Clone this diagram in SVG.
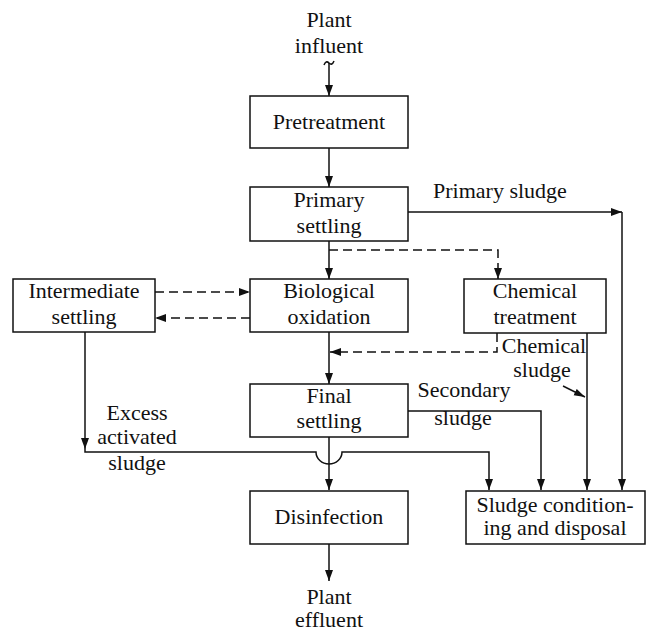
<svg xmlns="http://www.w3.org/2000/svg" width="648" height="631" viewBox="0 0 648 631">
<defs>
<marker id="ah" markerUnits="userSpaceOnUse" markerWidth="12" markerHeight="10" refX="11" refY="4" orient="auto">
<path d="M0,0 L11,4 L0,8 Z" fill="#111"/>
</marker>
<marker id="ahs" markerUnits="userSpaceOnUse" markerWidth="12" markerHeight="10" refX="11" refY="3.5" orient="auto">
<path d="M0,0 L11,3.5 L0,7 Z" fill="#111"/>
</marker>
</defs>
<style>
.box{fill:#fff;stroke:#111;stroke-width:1.5}
.t{font-family:'Liberation Serif','DejaVu Serif',serif;font-size:22px;fill:#111;text-anchor:middle}
.tl{font-family:'Liberation Serif','DejaVu Serif',serif;font-size:22px;fill:#111}
.ln{fill:none;stroke:#111;stroke-width:1.5}
.dash{fill:none;stroke:#111;stroke-width:1.5;stroke-dasharray:9 5}
</style>
<rect width="648" height="631" fill="#fff"/>
<g id="connectors">
<path class="ln" d="M324,65 Q326,60 329,63 Q332,66 334,61"/>
<line class="ln" x1="329" y1="63" x2="329" y2="96" marker-end="url(#ah)"/>
<line class="ln" x1="329" y1="148" x2="329" y2="187" marker-end="url(#ah)"/>
<line class="ln" x1="329" y1="241" x2="329" y2="279" marker-end="url(#ah)"/>
<line class="ln" x1="329" y1="332" x2="329" y2="384" marker-end="url(#ah)"/>
<line class="ln" x1="329" y1="437" x2="329" y2="490" marker-end="url(#ah)"/>
<line class="ln" x1="329" y1="544" x2="329" y2="581" marker-end="url(#ah)"/>
<line class="ln" x1="408" y1="212" x2="622" y2="212" marker-end="url(#ah)"/>
<line class="ln" x1="622" y1="212" x2="622" y2="490" marker-end="url(#ah)"/>
<polyline class="dash" points="329,250 498,250 498,279" marker-end="url(#ah)"/>
<line class="dash" x1="155" y1="292" x2="250" y2="292" marker-end="url(#ah)"/>
<line class="dash" x1="250" y1="318" x2="155" y2="318" marker-end="url(#ah)"/>
<polyline class="dash" points="497,333 497,352 330,352" marker-end="url(#ah)"/>
<line class="ln" x1="587" y1="333" x2="587" y2="490" marker-end="url(#ah)"/>
<line class="ln" x1="563" y1="386" x2="585" y2="397" marker-end="url(#ahs)"/>
<polyline class="ln" points="408,411 541,411 541,490" marker-end="url(#ah)"/>
<line class="ln" x1="85" y1="332" x2="85" y2="449" marker-end="url(#ah)"/>
<path class="ln" d="M85,449 L85,452 L316,452 A13,12 0 0 0 342,452 L489,452 L489,490" marker-end="url(#ah)"/>
</g>
<g id="influent"><text class="t" x="329" y="27">Plant</text><text class="t" x="329" y="53">influent</text></g>
<g id="pretreatment"><rect class="box" x="250" y="96" width="158" height="52"/><text class="t" x="329" y="129">Pretreatment</text></g>
<g id="primary-settling"><rect class="box" x="250" y="187" width="158" height="54"/><text class="t" x="329" y="207">Primary</text><text class="t" x="329" y="233">settling</text></g>
<g id="primary-sludge-label"><text class="tl" x="433" y="198">Primary sludge</text></g>
<g id="intermediate-settling"><rect class="box" x="13" y="279" width="142" height="53"/><text class="t" x="84" y="298">Intermediate</text><text class="t" x="84" y="324">settling</text></g>
<g id="biological-oxidation"><rect class="box" x="250" y="279" width="158" height="53"/><text class="t" x="329" y="298">Biological</text><text class="t" x="329" y="324">oxidation</text></g>
<g id="chemical-treatment"><rect class="box" x="464" y="279" width="142" height="54"/><text class="t" x="535" y="298">Chemical</text><text class="t" x="535" y="324">treatment</text></g>
<g id="chemical-sludge-label"><text class="t" x="544" y="353">Chemical</text><text class="t" x="542" y="377">sludge</text></g>
<g id="final-settling"><rect class="box" x="250" y="384" width="158" height="53"/><text class="t" x="329" y="403">Final</text><text class="t" x="329" y="428">settling</text></g>
<g id="secondary-sludge-label"><text class="t" x="464" y="397">Secondary</text><text class="t" x="463" y="425">sludge</text></g>
<g id="excess-label"><text class="t" x="137" y="420">Excess</text><text class="t" x="137" y="444">activated</text><text class="t" x="137" y="470">sludge</text></g>
<g id="disinfection"><rect class="box" x="250" y="491" width="158" height="53"/><text class="t" x="329" y="524">Disinfection</text></g>
<g id="sludge-conditioning"><rect class="box" x="466" y="491" width="179" height="53"/><text class="t" x="555" y="512">Sludge condition-</text><text class="t" x="555" y="535">ing and disposal</text></g>
<g id="effluent"><text class="t" x="329" y="604">Plant</text><text class="t" x="329" y="627">effluent</text></g>
</svg>
